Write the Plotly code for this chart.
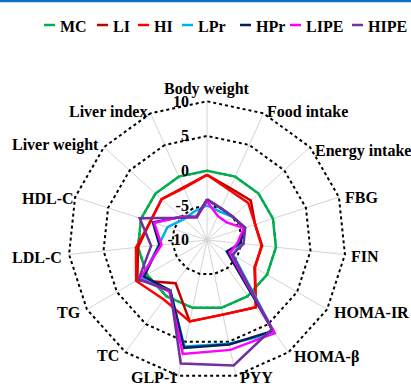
import plotly.graph_objects as go

categories = ["Body weight", "Food intake", "Energy intake", "FBG", "FIN", "HOMA-IR",
              "HOMA-β", "PYY", "GLP-1", "TC", "TG", "LDL-C", "HDL-C",
              "Liver weight", "Liver index"]

MC = [0, 0, 0, 0, 0, 0, 0, 0, 0, 0, 0, 0, 0, 0, 0]
LI = [-0.6, -1.8, -1.5, -2.7, -2.0, -2.1, 2.0, 1.0, 2.0, -2.3, 1.6, 0.0, -1.4, -1.2, -1.7]
HI = [-0.6, -2.1, -2.0, -2.7, -2.1, -2.0, 2.0, 1.0, 2.0, 0.6, 1.8, 0.3, -1.4, -1.2, -1.8]
LPr = [-5.0, -5.5, -5.0, -4.3, -5.3, -5.6, 6.6, 5.3, 5.7, -1.0, 0.8, -3.0, -4.0, -5.5, -5.5]
HPr = [-4.2, -5.0, -5.0, -4.3, -5.2, -6.7, 6.2, 5.4, 5.9, -1.0, 0.5, -3.1, -1.8, -5.0, -6.3]
LIPE = [-4.4, -6.2, -6.2, -4.4, -5.6, -6.2, 6.6, 6.2, 6.8, -0.8, 1.2, -3.4, -2.0, -5.0, -6.4]
HIPE = [-4.1, -5.0, -5.0, -4.2, -4.7, -5.8, 5.9, 8.5, 8.2, -1.0, 1.4, -1.9, 0.2, -5.2, -6.4]

series_names = ["MC", "LI", "HI", "LPr", "HPr", "LIPE", "HIPE"]
series_values = [MC, LI, HI, LPr, HPr, LIPE, HIPE]
colors = ["#00b050", "#c00000", "#ff0000", "#00b0f0", "#002060", "#ff00ff", "#7030a0"]

tick_vals = [-10, -5, 0, 5, 10]
tick_text = ["-10", "-5", "0", "5", "10"]

FONT = "Liberation Serif"
FS = 16

fig = go.Figure()
for name, vals, col in zip(series_names, series_values, colors):
    fig.add_trace(go.Scatterpolar(
        r=vals + vals[:1], theta=categories + categories[:1],
        mode="lines", name=name, line=dict(color=col, width=2.5),
        showlegend=False))

W, H = 411, 387
CX, CY, R = 207, 240, 137 * 10.25 / 10
fig.update_layout(
    width=W, height=H,
    margin=dict(l=0, r=0, t=0, b=0),
    paper_bgcolor="white",
    font=dict(family=FONT, size=FS, color="black", weight="bold"),
    polar=dict(
        domain=dict(x=[(CX - R) / W, (CX + R) / W], y=[(H - CY - R) / H, (H - CY + R) / H]),
        bgcolor="white",
        gridshape="linear",
        angularaxis=dict(
            rotation=90, direction="clockwise",
            showline=False, gridcolor="#d4d4d4", gridwidth=1,
            ticks="", showticklabels=False),
        radialaxis=dict(
            range=[-10, 10.25], angle=90, side="counterclockwise",
            tickvals=tick_vals, ticktext=tick_text, tickangle=90,
            showline=False, gridcolor="black", gridwidth=2, griddash="dot",
            ticks="outside", ticklen=12, tickcolor="rgba(0,0,0,0)",
            tickfont=dict(family=FONT, size=FS, weight="bold")),
    ),
)

# category labels placed around the polygon (pixel anchor, alignment)
label_pos = [(207, 89, "center"), (265, 111, "left"), (313, 151, "left"), (343, 197, "left"),
             (349, 256, "left"), (332, 312, "left"), (292, 357, "left"), (238, 377, "left"),
             (179, 377, "right"), (121, 355, "right"), (83, 312, "right"), (64, 257, "right"),
             (76, 198, "right"), (101, 145, "right"), (149, 112, "right")]
for cat, (px, py, anc) in zip(categories, label_pos):
    fig.add_annotation(xref="paper", yref="paper", x=px / W, y=1 - py / H, text=cat,
                       showarrow=False, xanchor=anc, yanchor="middle",
                       font=dict(family=FONT, size=FS, color="black", weight="bold"))

# legend row (manual, to keep short line samples like the original)
leg_x = [44, 97, 138, 182, 240, 290, 352]
leg_y = 25
for name, col, x0 in zip(series_names, colors, leg_x):
    fig.add_shape(type="line", xref="paper", yref="paper",
                  x0=x0 / W, x1=(x0 + 11) / W, y0=1 - leg_y / H, y1=1 - leg_y / H,
                  line=dict(color=col, width=2.5))
    fig.add_annotation(xref="paper", yref="paper", x=(x0 + 14) / W, y=1 - (leg_y + 1) / H,
                       text=name, showarrow=False, xanchor="left", yanchor="middle",
                       font=dict(family=FONT, size=FS, color="black", weight="bold"))

# top blue rule
fig.add_shape(type="line", xref="paper", yref="paper", x0=0, x1=1, y0=1 - 1 / H, y1=1 - 1 / H,
              line=dict(color="#1070c0", width=2.5))

fig.write_html("out.html")
